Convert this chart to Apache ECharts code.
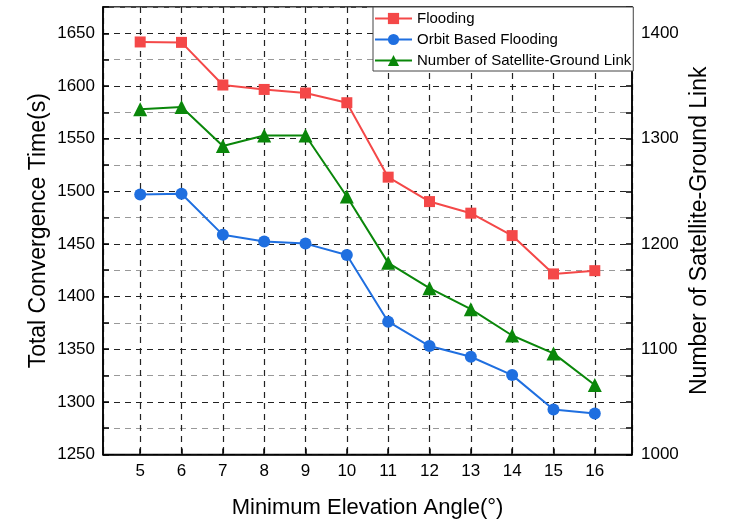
<!DOCTYPE html>
<html>
<head>
<meta charset="utf-8">
<script src="https://cdn.jsdelivr.net/npm/echarts@6/dist/echarts.min.js"></script>
<style>
html,body{margin:0;padding:0;background:#fff;}
#chart{width:730px;height:520px;}
</style>
</head>
<body>
<div id="chart"></div>
<script>
// ---- data ----
var angles = [5, 6, 7, 8, 9, 10, 11, 12, 13, 14, 15, 16];
var flooding = [1641.8, 1641.4, 1600.9, 1596.7, 1593.3, 1584.1, 1513.4, 1490.2, 1479.2, 1457.9, 1421.5, 1424.6];
var orbitFlooding = [1496.9, 1497.6, 1458.6, 1452.2, 1450.3, 1439.5, 1376.1, 1353.0, 1342.8, 1325.4, 1292.8, 1289.0];
var groundLinks = [1328, 1330, 1293, 1303, 1303, 1245, 1182, 1158, 1138, 1113, 1096, 1066];
var seriesNames = ['Flooding', 'Orbit Based Flooding', 'Number of Satellite-Ground Link'];
var xTitle = 'Minimum Elevation Angle(°)';
var yLeftTitle = 'Total Convergence Time(s)';
var yRightTitle = 'Number of Satellite-Ground Link';

function pairs(vals) { return angles.map(function (a, i) { return [a, vals[i]]; }); }

var FONT = 'Liberation Sans, Arial, sans-serif';
var chart = echarts.init(document.getElementById('chart'), null, {renderer: 'canvas'});
chart.setOption({
  animation: false,
  backgroundColor: '#fff',
  textStyle: {fontFamily: FONT},
  grid: {left: 103, right: 98, top: 7, bottom: 65.5, show: true, borderColor: '#000', borderWidth: 1.5,
    backgroundColor: 'transparent', containLabel: false, outerBoundsMode: 'none'},
  legend: {
    orient: 'vertical', left: 373, top: 7,
    padding: [4, 2, 3, 1], itemGap: 6, itemWidth: 37, itemHeight: 14,
    backgroundColor: '#fff', borderColor: '#444', borderWidth: 1,
    textStyle: {fontSize: 15, color: '#000', fontFamily: FONT},
    data: seriesNames
  },
  xAxis: {
    type: 'value', min: 4.1, max: 16.9, splitNumber: 12, minInterval: 1, maxInterval: 1,
    name: xTitle, nameLocation: 'middle', nameGap: 42, nameMoveOverlap: false,
    nameTextStyle: {fontSize: 22, color: '#000', fontFamily: FONT},
    axisLine: {lineStyle: {color: '#000', width: 1.5}},
    axisTick: {inside: true, length: 6, lineStyle: {color: '#000', width: 1.5}},
    axisLabel: {fontSize: 17, color: '#000', margin: 8, showMinLabel: false, showMaxLabel: false,
      formatter: function (v) { return Math.abs(v - Math.round(v)) < 1e-6 ? String(Math.round(v)) : ''; }},
    splitLine: {show: true, lineStyle: {color: '#222', type: [6, 5], width: 1.2}}
  },
  yAxis: [{
    type: 'value', min: 1250, max: 1675, interval: 25, position: 'left',
    name: yLeftTitle, nameLocation: 'middle', nameGap: 53, nameMoveOverlap: false,
    nameTextStyle: {fontSize: 23, color: '#000', fontFamily: FONT},
    axisLine: {show: true, lineStyle: {color: '#000', width: 1.5}},
    axisTick: {inside: true, length: 6, lineStyle: {color: '#000', width: 1.5}},
    axisLabel: {fontSize: 17, color: '#000', margin: 8,
      formatter: function (v) { return ((v - 1250) % 50 === 0 && v <= 1650) ? String(v) : ''; }},
    splitLine: {show: true, lineStyle: {color: ['#222', '#999'], type: [6, 5], width: 1.2}}
  }, {
    type: 'value', min: 1000, max: 1425, interval: 25, position: 'right',
    name: yRightTitle, nameLocation: 'middle', nameGap: 56, nameMoveOverlap: false,
    nameTextStyle: {fontSize: 23, color: '#000', fontFamily: FONT},
    axisLine: {show: true, lineStyle: {color: '#000', width: 1.5}},
    axisTick: {inside: true, length: 6, lineStyle: {color: '#000', width: 1.5}},
    axisLabel: {fontSize: 17, color: '#000', margin: 9,
      formatter: function (v) { return (v % 100 === 0 && v <= 1400) ? String(v) : ''; }},
    splitLine: {show: false}
  }],
  series: [{
    name: seriesNames[0], type: 'line', data: pairs(flooding),
    symbol: 'rect', symbolSize: 11,
    lineStyle: {color: '#F44848', width: 2}, itemStyle: {color: '#F44848'}
  }, {
    name: seriesNames[1], type: 'line', data: pairs(orbitFlooding),
    symbol: 'circle', symbolSize: 12,
    lineStyle: {color: '#1F6FE0', width: 2}, itemStyle: {color: '#1F6FE0'}
  }, {
    name: seriesNames[2], type: 'line', yAxisIndex: 1, data: pairs(groundLinks),
    symbol: 'triangle', symbolSize: 14,
    lineStyle: {color: '#0A870A', width: 2}, itemStyle: {color: '#0A870A'}
  }]
});
</script>
</body>
</html>
